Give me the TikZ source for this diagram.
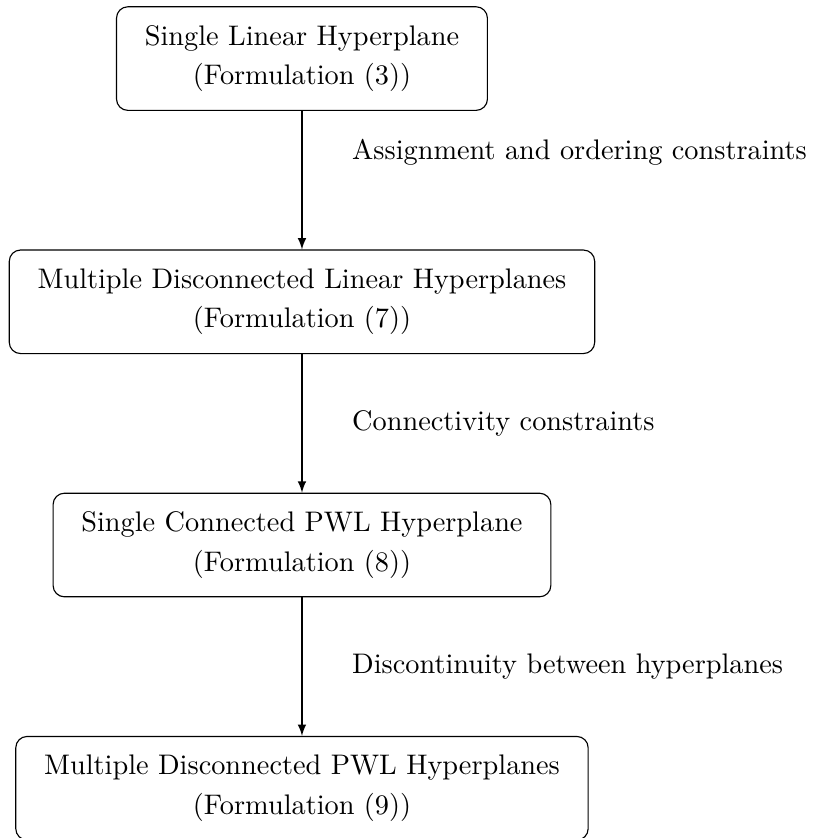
\documentclass[tikz,border=0pt]{standalone}
\usepackage{tikz}
\usetikzlibrary{positioning}

\begin{document}
\begin{tikzpicture}[node distance=1.72cm,
    stage/.style={draw, rounded corners, align=center, inner xsep=10pt, minimum height=36.6pt},
    lbl/.style={right=5mm}]
    \useasboundingbox (-106.7pt,20.7pt) rectangle (180.3pt,-275.4pt);
    \node[stage] (slh) {Single Linear Hyperplane\\[2pt](Formulation (3))};
    \node[stage, below=of slh] (mdlh) {Multiple Disconnected Linear Hyperplanes\\[2pt](Formulation (7))};
    \node[stage, below=of mdlh] (scph) {Single Connected PWL Hyperplane\\[2pt](Formulation (8))};
    \node[stage, below=of scph] (mdph) {Multiple Disconnected PWL Hyperplanes\\[2pt](Formulation (9))};

    \draw[-latex] (slh) -- node[lbl, pos=0.3] {Assignment and ordering constraints} (mdlh);
    \draw[-latex] (mdlh) -- node[lbl, midway] {Connectivity constraints} (scph);
    \draw[-latex] (scph) -- node[lbl, midway] {Discontinuity between hyperplanes} (mdph);
  \end{tikzpicture}
\end{document}
